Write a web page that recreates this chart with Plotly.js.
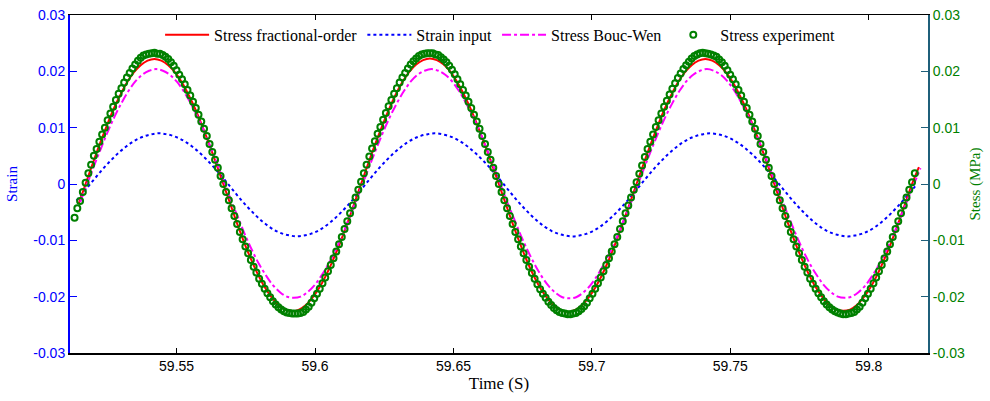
<!DOCTYPE html>
<html>
<head>
<meta charset="utf-8">
<script src="https://cdn.plot.ly/plotly-3.0.1.min.js"></script>
<style>html,body{margin:0;padding:0;background:#fff;}#chart{width:990px;height:401px;}</style>
</head>
<body>
<div id="chart"></div>
<script>
// ---- data ----
var seriesNames = ["Stress fractional-order", "Strain input", "Stress Bouc-Wen", "Stress experiment"];

// model curves sampled every 0.0024875 s
var modelStep = 0.0024875;
var fracStart = 59.51464;
var stressFractional = [
 -0.0035,
 0, 0.0035, 0.0069, 0.0101, 0.0131, 0.0157, 0.0180, 0.0198, 0.0211, 0.0219, 0.0222, 0.0219, 0.0211, 0.0198, 0.0180, 0.0157, 0.0131, 0.0101, 0.0069, 0.0035,
 0, -0.0035, -0.0070, -0.0103, -0.0133, -0.0160, -0.0183, -0.0201, -0.0215, -0.0223, -0.0226, -0.0223, -0.0215, -0.0201, -0.0183, -0.0160, -0.0133, -0.0103, -0.0070, -0.0035,
 0, 0.0035, 0.0069, 0.0101, 0.0131, 0.0158, 0.0181, 0.0199, 0.0212, 0.0220, 0.0223, 0.0220, 0.0212, 0.0199, 0.0180, 0.0157, 0.0131, 0.0101, 0.0069, 0.0035,
 0, -0.0035, -0.0070, -0.0103, -0.0134, -0.0161, -0.0184, -0.0202, -0.0216, -0.0224, -0.0227, -0.0224, -0.0216, -0.0202, -0.0184, -0.0161, -0.0134, -0.0103, -0.0070, -0.0035,
 0, 0.0035, 0.0069, 0.0101, 0.0131, 0.0157, 0.0180, 0.0198, 0.0211, 0.0219, 0.0222, 0.0219, 0.0211, 0.0198, 0.0180, 0.0157, 0.0131, 0.0101, 0.0069, 0.0035,
 0, -0.0035, -0.0070, -0.0103, -0.0133, -0.0160, -0.0183, -0.0201, -0.0215, -0.0223, -0.0225, -0.0223, -0.0215, -0.0201, -0.0183, -0.0160, -0.0133, -0.0103, -0.0070, -0.0035,
 0.0000, 0.0030
];

var strainStart = 59.51385;
var strainInput = [
 -0.00295, -0.00150,
 0, 0.00148, 0.00290, 0.00420, 0.00540, 0.00645, 0.00735, 0.00805, 0.00855, 0.00885, 0.00900, 0.00885, 0.00855, 0.00805, 0.00735, 0.00645, 0.00540, 0.00420, 0.00290, 0.00148,
 0, -0.00150, -0.00295, -0.00430, -0.00555, -0.00665, -0.00760, -0.00835, -0.00885, -0.00915, -0.00930, -0.00915, -0.00885, -0.00835, -0.00760, -0.00665, -0.00555, -0.00430, -0.00295, -0.00150,
 0, 0.00148, 0.00290, 0.00420, 0.00540, 0.00645, 0.00735, 0.00805, 0.00855, 0.00885, 0.00900, 0.00885, 0.00855, 0.00805, 0.00735, 0.00645, 0.00540, 0.00420, 0.00290, 0.00148,
 0, -0.00150, -0.00295, -0.00430, -0.00555, -0.00665, -0.00760, -0.00835, -0.00885, -0.00915, -0.00930, -0.00915, -0.00885, -0.00835, -0.00760, -0.00665, -0.00555, -0.00430, -0.00295, -0.00150,
 0, 0.00148, 0.00290, 0.00420, 0.00540, 0.00645, 0.00735, 0.00805, 0.00855, 0.00885, 0.00900, 0.00885, 0.00855, 0.00805, 0.00735, 0.00645, 0.00540, 0.00420, 0.00290, 0.00148,
 0, -0.00150, -0.00295, -0.00430, -0.00555, -0.00665, -0.00760, -0.00835, -0.00885, -0.00915, -0.00930, -0.00915, -0.00885, -0.00835, -0.00760, -0.00665, -0.00555, -0.00430, -0.00295, -0.00150,
 -0.0001
];

var boucStart = 59.5152;
var stressBoucWen = [
 -0.0032,
 0, 0.0032, 0.0063, 0.0093, 0.0120, 0.0144, 0.0165, 0.0182, 0.0194, 0.0201, 0.0204, 0.0201, 0.0194, 0.0182, 0.0165, 0.0144, 0.0120, 0.0093, 0.0063, 0.0032,
 0, -0.0032, -0.0062, -0.0092, -0.0119, -0.0143, -0.0163, -0.0180, -0.0192, -0.0200, -0.0202, -0.0200, -0.0192, -0.0180, -0.0163, -0.0143, -0.0119, -0.0092, -0.0062, -0.0032,
 0, 0.0032, 0.0063, 0.0093, 0.0120, 0.0144, 0.0165, 0.0182, 0.0194, 0.0201, 0.0204, 0.0201, 0.0194, 0.0182, 0.0165, 0.0144, 0.0120, 0.0093, 0.0063, 0.0032,
 0, -0.0032, -0.0062, -0.0092, -0.0119, -0.0143, -0.0164, -0.0181, -0.0193, -0.0201, -0.0203, -0.0201, -0.0193, -0.0181, -0.0164, -0.0143, -0.0119, -0.0092, -0.0062, -0.0032,
 0, 0.0032, 0.0063, 0.0093, 0.0120, 0.0144, 0.0165, 0.0182, 0.0194, 0.0201, 0.0204, 0.0201, 0.0194, 0.0182, 0.0165, 0.0144, 0.0120, 0.0093, 0.0063, 0.0032,
 0, -0.0032, -0.0062, -0.0092, -0.0119, -0.0143, -0.0163, -0.0180, -0.0192, -0.0200, -0.0202, -0.0200, -0.0192, -0.0180, -0.0163, -0.0143, -0.0119, -0.0092, -0.0062, -0.0032,
 -0.0002, 0.0028
];

// experiment sampled every 0.000995 s
var expStart = 59.51315;
var expStep = 0.000995;
var stressExperiment = [
 -0.0060, -0.0043, -0.0030, -0.0014,
 0.0002, 0.0019, 0.0034, 0.0050, 0.0062, 0.0075, 0.0088, 0.0100, 0.0113, 0.0125, 0.0137, 0.0149, 0.0160, 0.0170, 0.0180, 0.0189, 0.0197, 0.0205, 0.0212, 0.0219, 0.0224, 0.0228, 0.0230, 0.0231, 0.0232, 0.0233,
 0.0231, 0.0231, 0.0229, 0.0226, 0.0222, 0.0216, 0.0210, 0.0202, 0.0194, 0.0186, 0.0177, 0.0167, 0.0157, 0.0146, 0.0135, 0.0123, 0.0111, 0.0098, 0.0085, 0.0071, 0.0057, 0.0043, 0.0029, 0.0014, 0.0000,
 -0.0014, -0.0029, -0.0043, -0.0057, -0.0071, -0.0085, -0.0098, -0.0111, -0.0123, -0.0135, -0.0147, -0.0157, -0.0168, -0.0177, -0.0186, -0.0194, -0.0201, -0.0208, -0.0214, -0.0219, -0.0223, -0.0226, -0.0228, -0.0229, -0.0230,
 -0.0230, -0.0230, -0.0229, -0.0227, -0.0223, -0.0218, -0.0211, -0.0203, -0.0195, -0.0186, -0.0176, -0.0166, -0.0155, -0.0144, -0.0132, -0.0120, -0.0107, -0.0094, -0.0080, -0.0066, -0.0052, -0.0038, -0.0024, -0.0010,
 0.0004, 0.0019, 0.0034, 0.0049, 0.0063, 0.0076, 0.0089, 0.0101, 0.0114, 0.0126, 0.0138, 0.0149, 0.0160, 0.0170, 0.0180, 0.0189, 0.0197, 0.0205, 0.0212, 0.0218, 0.0223, 0.0227, 0.0230, 0.0231, 0.0232, 0.0232,
 0.0232, 0.0230, 0.0229, 0.0225, 0.0221, 0.0216, 0.0210, 0.0203, 0.0195, 0.0186, 0.0177, 0.0167, 0.0157, 0.0146, 0.0135, 0.0123, 0.0111, 0.0098, 0.0085, 0.0071, 0.0057, 0.0043, 0.0029, 0.0014, 0.0000,
 -0.0014, -0.0029, -0.0043, -0.0057, -0.0071, -0.0085, -0.0098, -0.0111, -0.0123, -0.0135, -0.0147, -0.0158, -0.0168, -0.0178, -0.0187, -0.0195, -0.0202, -0.0209, -0.0215, -0.0220, -0.0224, -0.0227, -0.0229, -0.0230, -0.0231,
 -0.0231, -0.0230, -0.0229, -0.0226, -0.0222, -0.0217, -0.0211, -0.0203, -0.0195, -0.0186, -0.0176, -0.0166, -0.0155, -0.0144, -0.0132, -0.0120, -0.0107, -0.0094, -0.0080, -0.0066, -0.0052, -0.0038, -0.0024, -0.0010,
 0.0003, 0.0018, 0.0033, 0.0048, 0.0062, 0.0075, 0.0088, 0.0101, 0.0113, 0.0125, 0.0137, 0.0148, 0.0159, 0.0169, 0.0179, 0.0188, 0.0196, 0.0204, 0.0211, 0.0217, 0.0223, 0.0227, 0.0230, 0.0232, 0.0233, 0.0232,
 0.0231, 0.0230, 0.0228, 0.0226, 0.0221, 0.0216, 0.0210, 0.0202, 0.0194, 0.0186, 0.0177, 0.0167, 0.0157, 0.0146, 0.0135, 0.0123, 0.0111, 0.0098, 0.0085, 0.0071, 0.0057, 0.0043, 0.0029, 0.0014, 0.0000,
 -0.0014, -0.0029, -0.0043, -0.0057, -0.0071, -0.0085, -0.0098, -0.0111, -0.0123, -0.0135, -0.0147, -0.0157, -0.0168, -0.0177, -0.0186, -0.0194, -0.0201, -0.0208, -0.0214, -0.0219, -0.0223, -0.0226, -0.0228, -0.0230, -0.0231,
 -0.0231, -0.0230, -0.0229, -0.0227, -0.0223, -0.0218, -0.0211, -0.0203, -0.0195, -0.0186, -0.0176, -0.0166, -0.0155, -0.0144, -0.0132, -0.0120, -0.0107, -0.0094, -0.0080, -0.0066, -0.0052, -0.0038, -0.0024, -0.0010,
 0.0003, 0.0019
];

var xTickVals = [59.55, 59.6, 59.65, 59.7, 59.75, 59.8];
var xTickText = ["59.55", "59.6", "59.65", "59.7", "59.75", "59.8"];
var yTickVals = [-0.03, -0.02, -0.01, 0, 0.01, 0.02, 0.03];
var yTickText = ["-0.03", "-0.02", "-0.01", "0", "0.01", "0.02", "0.03"];

// ---- chart ----
var serif = "Liberation Serif, Times New Roman, serif";
var sans = "Liberation Sans, Arial, sans-serif";

var traces = [
  {name: seriesNames[0], x0: fracStart, dx: modelStep, y: stressFractional, yaxis: "y2",
   mode: "lines", line: {color: "#ff0000", width: 2, shape: "spline"}},
  {name: seriesNames[1], x0: strainStart, dx: modelStep, y: strainInput, yaxis: "y",
   mode: "lines", line: {color: "#0000ff", width: 2, dash: "dot", shape: "spline"}},
  {name: seriesNames[2], x0: boucStart, dx: modelStep, y: stressBoucWen, yaxis: "y2",
   mode: "lines", line: {color: "#ff00ff", width: 2, dash: "dashdot", shape: "spline"}},
  {name: seriesNames[3], x0: expStart, dx: expStep, y: stressExperiment, yaxis: "y2",
   mode: "markers", marker: {symbol: "circle-open", size: 6, color: "#008000", line: {width: 2, color: "#008000"}}}
];

var layout = {
  width: 990, height: 401,
  margin: {l: 70, r: 62, t: 15, b: 48},
  paper_bgcolor: "#ffffff", plot_bgcolor: "#ffffff",
  showlegend: true,
  legend: {orientation: "h", x: 0.105, y: 0.941, xanchor: "left", yanchor: "middle",
           itemwidth: 44,
           bgcolor: "rgba(255,255,255,0)", borderwidth: 0,
           font: {family: serif, size: 16, color: "#000000"}},
  xaxis: {range: [59.5115, 59.8214], tickvals: xTickVals, ticktext: xTickText,
          ticks: "inside", ticklen: 5, tickcolor: "#000000", tickwidth: 1,
          showline: true, linecolor: "#000000", linewidth: 1.5, mirror: "ticks",
          showgrid: false, zeroline: false,
          tickfont: {family: sans, size: 14, color: "#000000"},
          title: {text: "Time (S)", font: {family: serif, size: 17, color: "#000000"}, standoff: 4}},
  yaxis: {range: [-0.03, 0.03], tickvals: yTickVals, ticktext: yTickText,
          ticks: "inside", ticklen: 7, tickcolor: "#0000ff", tickwidth: 1,
          showline: true, linecolor: "#0000ff", linewidth: 2,
          showgrid: false, zeroline: false,
          tickfont: {family: sans, size: 14, color: "#0000ff"},
          title: {text: "Strain", font: {family: serif, size: 15, color: "#0000ff"}, standoff: 12}},
  yaxis2: {range: [-0.03, 0.03], tickvals: yTickVals, ticktext: yTickText,
           overlaying: "y", side: "right",
           ticks: "inside", ticklen: 7, tickcolor: "#1f5f7a", tickwidth: 1,
           showline: true, linecolor: "#1f5f7a", linewidth: 2,
           showgrid: false, zeroline: false,
           tickfont: {family: sans, size: 14, color: "#008000"},
           title: {text: "Stess (MPa)", font: {family: serif, size: 15, color: "#008000"}, standoff: 6}}
};

Plotly.newPlot("chart", traces, layout, {displayModeBar: false, staticPlot: true});
</script>
</body>
</html>
